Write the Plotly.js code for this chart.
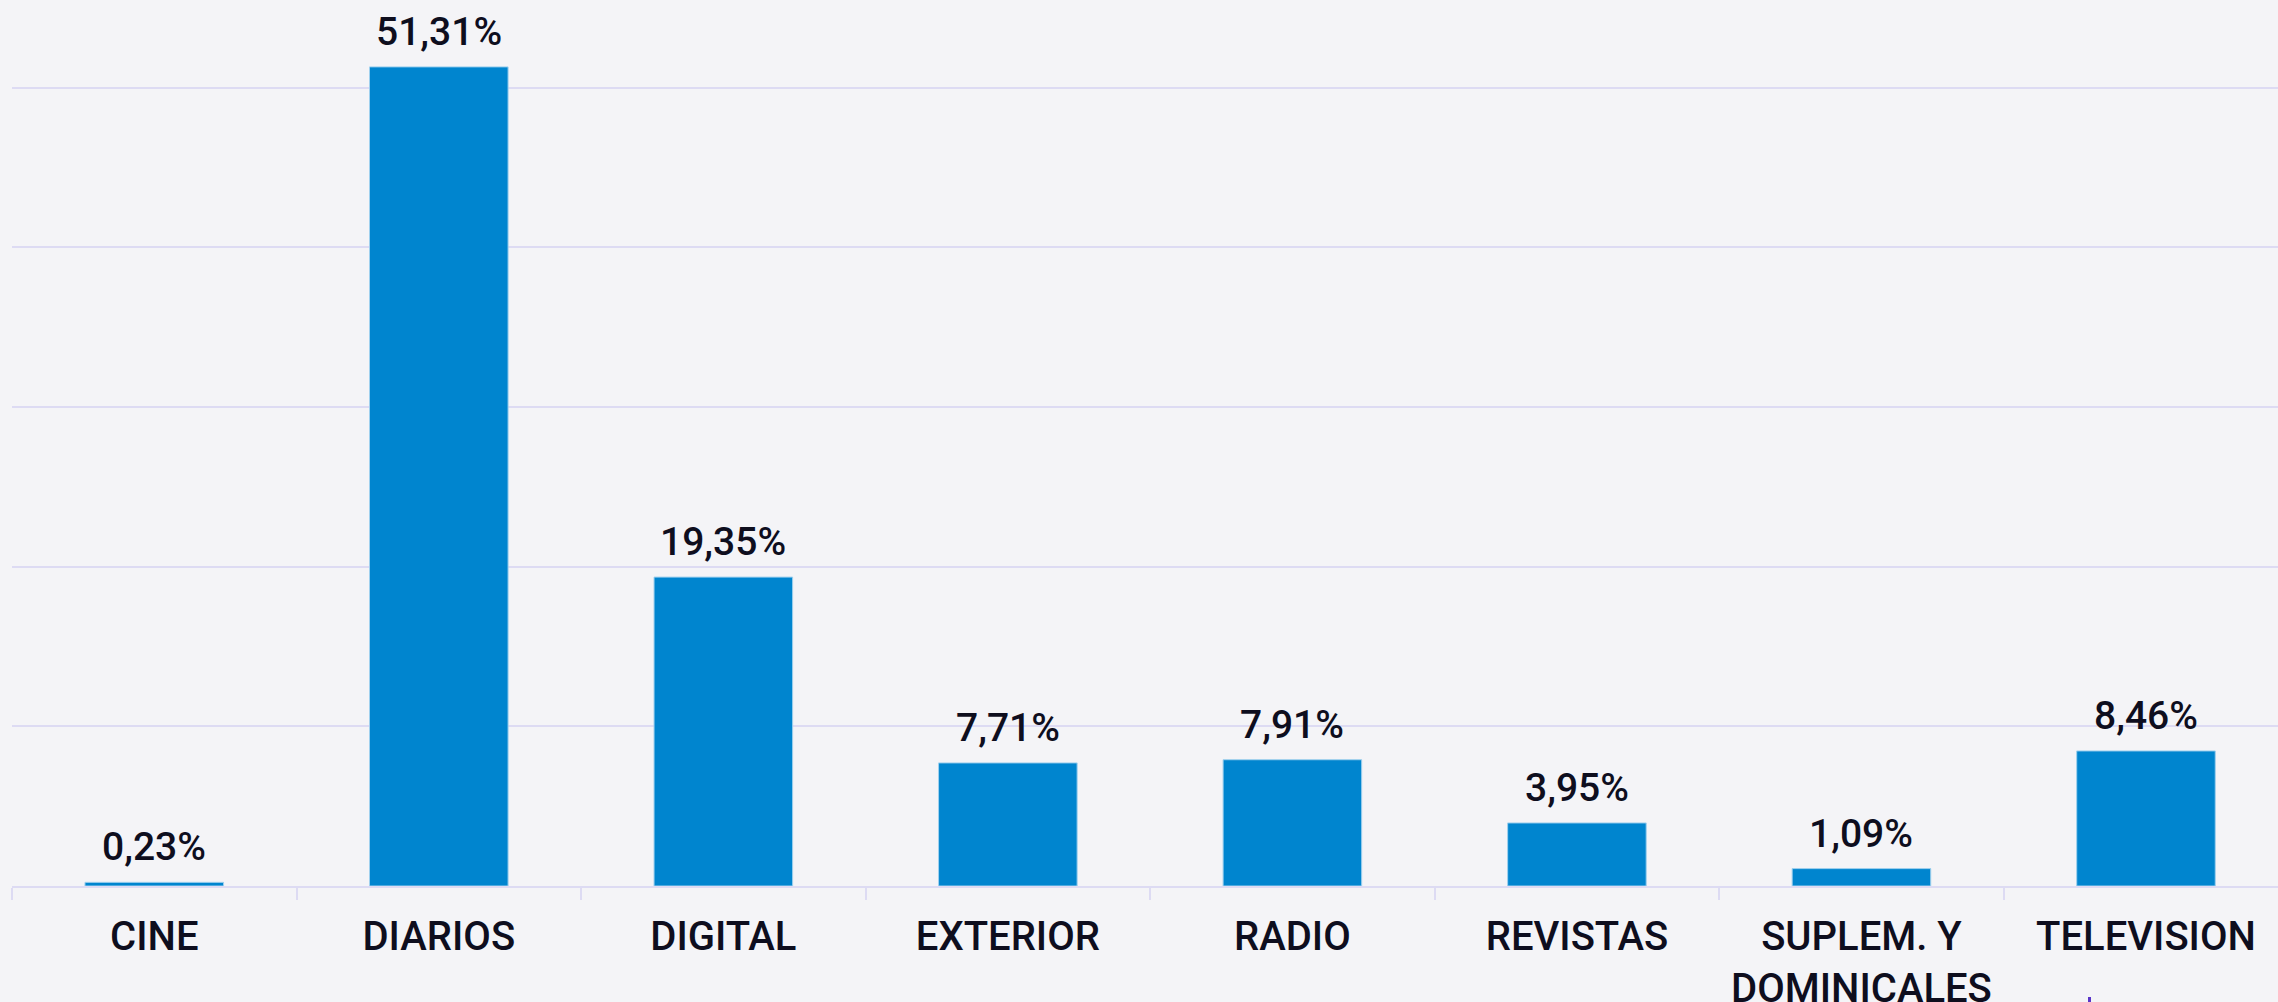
<!DOCTYPE html>
<html>
<head>
<meta charset="utf-8">
<script src="https://cdn.plot.ly/plotly-3.0.1.min.js"></script>
<style>
html,body{margin:0;padding:0;background:#f4f4f7;}
#chart{width:2278px;height:1002px;}
</style>
</head>
<body>
<div id="chart"></div>
<script>
const categories = ["CINE", "DIARIOS", "DIGITAL", "EXTERIOR", "RADIO", "REVISTAS", "SUPLEM. Y<br>DOMINICALES", "TELEVISION"];
const values = [0.23, 51.31, 19.35, 7.71, 7.91, 3.95, 1.09, 8.46];
const valueLabels = values.map(v => v.toFixed(2).replace('.', ',') + '%');

const bg = '#f4f4f7';
const grid = '#dddbf3';
const ink = '#0e0e1e';

const trace = {
  type: 'bar',
  x: categories,
  y: values,
  marker: {color: '#0085cf', line: {color: '#9fd0ee', width: 1}},
  hoverinfo: 'x+y'
};

const annotations = categories.map((c, i) => ({
  x: c, y: values[i], xref: 'x', yref: 'y',
  text: valueLabels[i], showarrow: false,
  yanchor: 'bottom', yshift: 10,
  font: {family: 'Roboto', size: 39, color: ink, weight: 500}
}));

const layout = {
  width: 2278, height: 1002,
  paper_bgcolor: bg, plot_bgcolor: bg,
  margin: {l: 12, r: 0, t: 0, b: 116, pad: 0},
  bargap: 0.513,
  showlegend: false,
  font: {family: 'Roboto', color: ink},
  xaxis: {
    type: 'category',
    range: [-0.5, 7.464],
    tickson: 'boundaries',
    ticks: 'outside', ticklen: 12, tickwidth: 2, tickcolor: grid,
    showline: true, linecolor: grid, linewidth: 2,
    showgrid: false,
    ticklabelstandoff: 14,
    tickfont: {family: 'Roboto', size: 40, color: ink, weight: 500},
    fixedrange: true
  },
  yaxis: {
    range: [0, 55.5],
    dtick: 10,
    showticklabels: false,
    showgrid: true, gridcolor: grid, gridwidth: 2,
    zeroline: false,
    showline: false,
    fixedrange: true
  },
  shapes: [{
    type: 'rect', xref: 'paper', yref: 'paper',
    x0: (2088 - 12) / 2266, x1: (2091 - 12) / 2266,
    y0: (886 - 1002) / 886, y1: (886 - 997) / 886,
    fillcolor: '#5a35c8', line: {width: 0}
  }],
  annotations: annotations
};

Plotly.newPlot('chart', [trace], layout, {displayModeBar: false, staticPlot: true});
</script>
</body>
</html>
